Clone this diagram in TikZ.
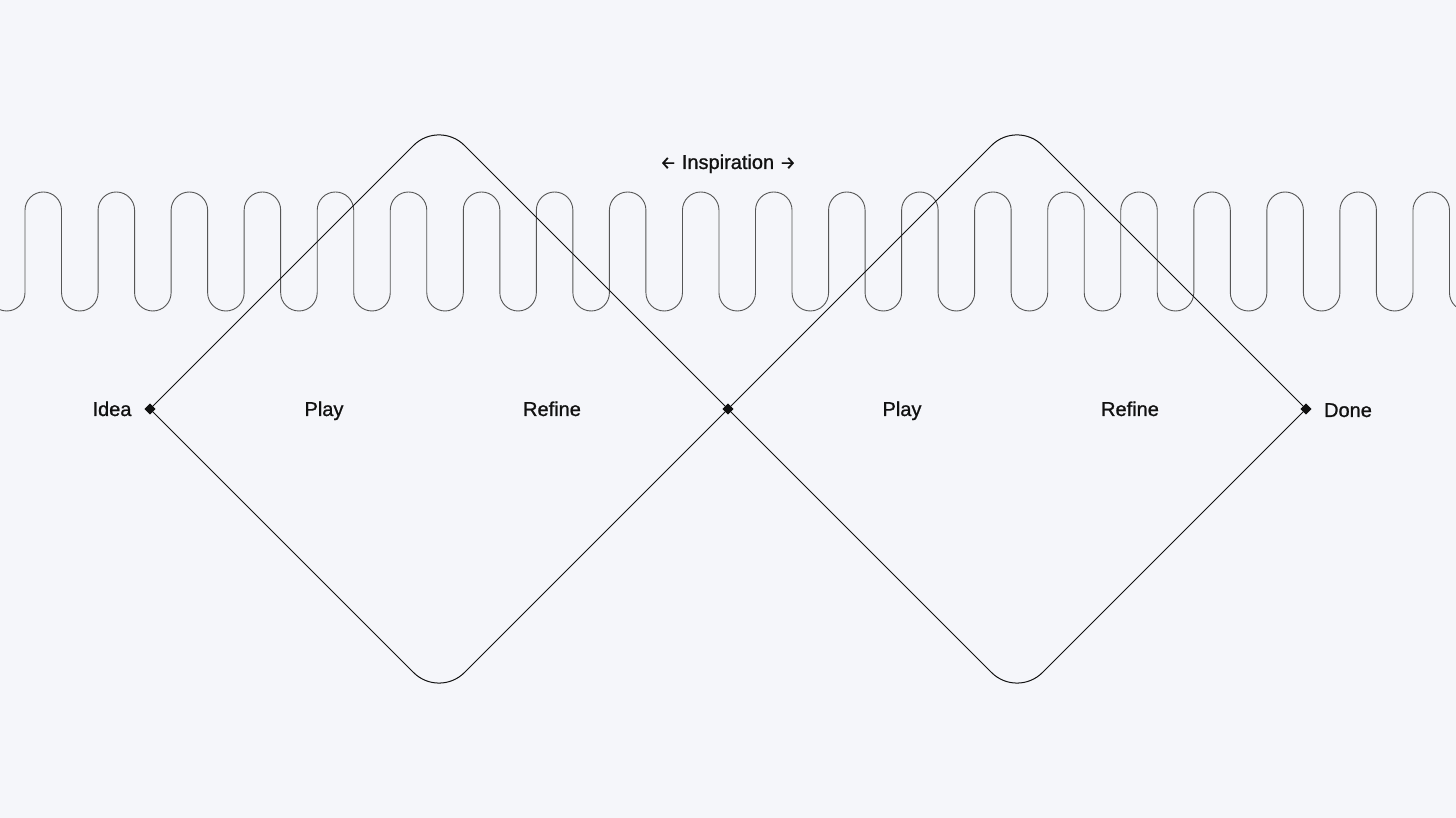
\documentclass[tikz,border=0pt]{standalone}
\usepackage{fontspec}
\setmainfont{Liberation Sans}[FakeBold=1]
\newfontfamily\arrowfont{Fira Sans}[FakeBold=0.8]
\usetikzlibrary{shapes.geometric}
\definecolor{bgcol}{HTML}{F5F6FA}
\definecolor{wavecol}{HTML}{555555}
\definecolor{inkcol}{HTML}{111111}
\tikzset{
  wave/.style={draw=wavecol, line width=0.9pt},
  loopline/.style={draw=inkcol, line width=1pt, rounded corners=36pt},
  marker/.style={diamond, fill=inkcol, inner sep=0pt, minimum size=11pt},
  label/.style={font=\fontsize{20}{24}\selectfont, text=inkcol, inner sep=0pt, anchor=base}
}
\newcommand{\smallarrow}[1]{{\arrowfont\fontsize{18}{18}\selectfont #1}}
\begin{document}
\begin{tikzpicture}[x=1pt, y=1pt]
  \fill[bgcol] (0,0) rectangle (1456,818);
  \useasboundingbox (0,0) rectangle (1456,818);
  \begin{scope}
    \clip (0,0) rectangle (1456,818);
    \draw[wave] ({25-73.05},525.26)
      \foreach \i in {-1,...,20} {
        -- ({25+\i*73.05},525.26) -- ({25+\i*73.05},607.74)
        arc[start angle=180, end angle=0, radius=18.2625pt]
        -- ({25+\i*73.05+36.525},525.26)
        arc[start angle=180, end angle=360, radius=18.2625pt]
      };
  \end{scope}
  % key points
  \node[marker] (idea) at (150,409) {};
  \node[marker] (mid) at (728,409) {};
  \node[marker] (done) at (1306,409) {};
  \coordinate (top1) at (439,698);
  \coordinate (bot1) at (439,120);
  \coordinate (top2) at (1017,698);
  \coordinate (bot2) at (1017,120);
  % diamonds
  \draw[loopline] (idea.center) -- (top1) -- (mid.center);
  \draw[loopline] (idea.center) -- (bot1) -- (mid.center);
  \draw[loopline] (mid.center) -- (top2) -- (done.center);
  \draw[loopline] (mid.center) -- (bot2) -- (done.center);
  \node[marker] at (idea) {};
  \node[marker] at (mid) {};
  \node[marker] at (done) {};
  % labels
  \node[label] (tidea) at (112,402) {Idea};
  \node[label] (play1) at (324,402) {Play};
  \node[label] (refine1) at (552,402) {Refine};
  \node[label] (play2) at (902,402) {Play};
  \node[label] (refine2) at (1130,402) {Refine};
  \node[label] (tdone) at (1348,401) {Done};
  \node[label] (insp) at (728,649) {\smallarrow{←} Inspiration \smallarrow{→}};
\end{tikzpicture}
\end{document}
